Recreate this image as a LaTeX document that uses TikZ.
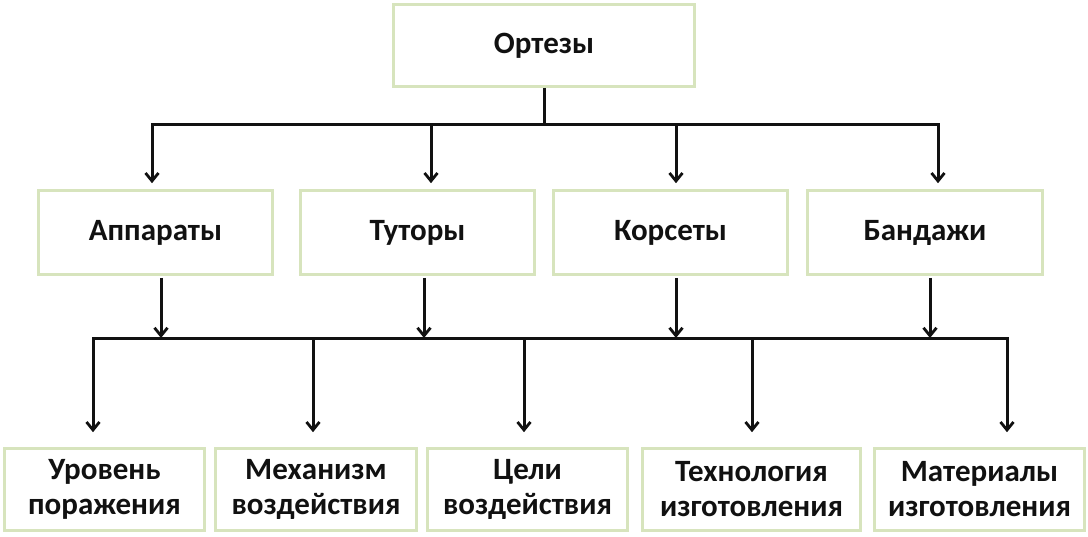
\documentclass[tikz,border=0pt]{standalone}
\usepackage{fontspec}
\setmainfont{Carlito}
\usetikzlibrary{arrows.meta,positioning,calc}
\definecolor{ortgreen}{HTML}{D7E4BD}
\definecolor{ortdark}{HTML}{111111}

\begin{document}
\begin{tikzpicture}[
  x=1pt,y=-1pt,
  font=\fontsize{31}{35}\selectfont\bfseries,
  box/.style={draw=ortgreen,fill=white,line width=2.6pt,align=center,text=ortdark,inner sep=2pt,minimum height=82pt},
  line/.style={draw=ortdark,line width=3pt},
  arr/.style={line,-{Straight Barb[length=8pt,width=13pt,line width=2.8pt]}}
]
\useasboundingbox (0,0) rectangle (1088,536);
% verhnii uroven
\node[box,minimum width=301pt] (ort) at (544,45.5) {Ортезы};
% vidy ortezov
\node[box,minimum width=234pt,minimum height=84pt] (app) at (155.5,232.5) {Аппараты};
\node[box,minimum width=234pt,minimum height=84pt] (tut) at (417.5,232.5) {Туторы};
\node[box,minimum width=234pt,minimum height=84pt] (kor) at (670.5,232.5) {Корсеты};
\node[box,minimum width=235pt,minimum height=84pt] (band) at (925,232.5) {Бандажи};
% priznaki klassifikacii
\node[box,minimum width=200pt] (ur) at (104.5,489.5) {Уровень\\поражения};
\node[box,minimum width=201pt] (mech) at (316,489.5) {Механизм\\воздействия};
\node[box,minimum width=200pt] (cel) at (527.5,489.5) {Цели\\воздействия};
\node[box,minimum width=218pt] (tech) at (751.5,489.5) {Технология\\изготовления};
\node[box,minimum width=210pt] (mat) at (979.5,489.5) {Материалы\\изготовления};

% shina 1
\coordinate (t1) at (152,124);
\coordinate (t2) at (431,124);
\coordinate (t3) at (676,124);
\coordinate (t4) at (938,124);
\draw[line] (ort.south) -- (ort.south |- t1);
\draw[line,line cap=rect] (t1) -- (t4);
\draw[arr,shorten >=6pt] (t1) -- (t1 |- app.north);
\draw[arr,shorten >=6pt] (t2) -- (t2 |- tut.north);
\draw[arr,shorten >=6pt] (t3) -- (t3 |- kor.north);
\draw[arr,shorten >=6pt] (t4) -- (t4 |- band.north);

% shina 2
\coordinate (u1) at (161,338);
\coordinate (u2) at (424,338);
\coordinate (u3) at (676,338);
\coordinate (u4) at (930,338);
\draw[arr,shorten <=2pt] (u1 |- app.south) -- (u1);
\draw[arr,shorten <=2pt] (u2 |- tut.south) -- (u2);
\draw[arr,shorten <=2pt] (u3 |- kor.south) -- (u3);
\draw[arr,shorten <=2pt] (u4 |- band.south) -- (u4);

\coordinate (v1) at (93,338);
\coordinate (v2) at (313,338);
\coordinate (v3) at (524,338);
\coordinate (v4) at (752,338);
\coordinate (v5) at (1007,338);
\draw[line,line cap=rect] (v1) -- (v5);
\draw[arr,shorten >=15pt] (v1) -- (v1 |- ur.north);
\draw[arr,shorten >=15pt] (v2) -- (v2 |- mech.north);
\draw[arr,shorten >=15pt] (v3) -- (v3 |- cel.north);
\draw[arr,shorten >=15pt] (v4) -- (v4 |- tech.north);
\draw[arr,shorten >=15pt] (v5) -- (v5 |- mat.north);
\end{tikzpicture}
\end{document}
